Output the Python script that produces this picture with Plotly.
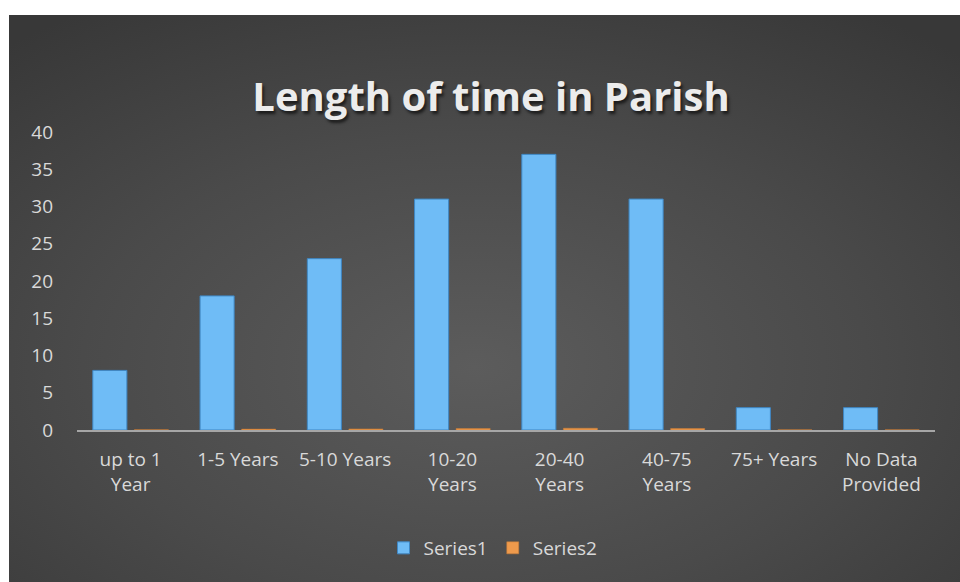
import base64
import plotly.graph_objects as go

categories = ["up to 1<br>Year", "1-5 Years", "5-10 Years", "10-20<br>Years",
              "20-40<br>Years", "40-75<br>Years", "75+ Years", "No Data<br>Provided"]
series1 = [8, 18, 23, 31, 37, 31, 3, 3]
series2 = [0.05, 0.12, 0.15, 0.2, 0.24, 0.2, 0.02, 0.02]
y_ticks = [0, 5, 10, 15, 20, 25, 30, 35, 40]

svg = """<svg xmlns="http://www.w3.org/2000/svg" width="951" height="567" viewBox="0 0 951 567" preserveAspectRatio="none">
<defs><radialGradient id="g" cx="0.49" cy="0.62" r="0.75" gradientUnits="objectBoundingBox">
<stop offset="0" stop-color="#5c5c5c"/><stop offset="0.55" stop-color="#4a4a4a"/><stop offset="1" stop-color="#383838"/>
</radialGradient></defs><rect width="951" height="567" fill="url(#g)"/></svg>"""
bg_uri = "data:image/svg+xml;base64," + base64.b64encode(svg.encode()).decode()

FONT = "'Open Sans', Lato, sans-serif"

W, H = 960, 582
L, T = 77, 132
R = W - 935
B = H - 430
pw, ph = W - L - R, H - T - B
plot_bottom = H - B


def py(page_y):
    return (plot_bottom - page_y) / ph


def px(page_x):
    return (page_x - L) / pw


fig = go.Figure()
fig.add_trace(go.Bar(x=categories, y=series1, name="Series1",
                     marker=dict(color="#6fbcf6", line=dict(color="#3f87c4", width=1))))
fig.add_trace(go.Bar(x=categories, y=series2, name="Series2",
                     marker=dict(color="#ee9a4c", line=dict(color="#c77a35", width=0.5))))

fig.update_layout(
    width=W, height=H,
    margin=dict(l=L, r=R, t=T, b=B),
    paper_bgcolor="#383838",
    plot_bgcolor="rgba(0,0,0,0)",
    barmode="group",
    bargap=0.225,
    bargroupgap=0.18,
    title=dict(text="<b>Length of time in Parish</b>", x=px(491), xanchor="center",
               xref="paper", y=(H - 97) / H, yanchor="middle",
               font=dict(family=FONT, size=40, color="#ececec",
                         shadow="2px 3px 3px rgba(0,0,0,0.6)")),
    font=dict(family=FONT, color="#d9d9d9", size=19),
    xaxis=dict(showgrid=False, showline=True, linecolor="#a6a6a6", linewidth=2,
               ticks="", ticklabelstandoff=11,
               tickfont=dict(size=19, color="#d9d9d9"), zeroline=False),
    yaxis=dict(range=[0, 40], tickvals=y_ticks, showgrid=False, zeroline=False,
               showline=False, ticks="", ticklabelstandoff=23,
               tickfont=dict(size=19, color="#d9d9d9")),
    legend=dict(orientation="h", x=px(493), xanchor="center", y=py(548),
                yanchor="middle", font=dict(size=19, color="#d9d9d9"),
                bgcolor="rgba(0,0,0,0)", itemwidth=30),
    images=[dict(source=bg_uri, xref="paper", yref="paper", x=px(9), y=py(15),
                 sizex=px(960) - px(9), sizey=py(15) - py(582), sizing="stretch",
                 xanchor="left", yanchor="top", layer="below")],
    shapes=[
        dict(type="rect", xref="paper", yref="paper", x0=px(0), x1=px(9),
             y0=py(582), y1=py(0), fillcolor="white", line=dict(width=0), layer="below"),
        dict(type="rect", xref="paper", yref="paper", x0=px(0), x1=px(960),
             y0=py(15), y1=py(0), fillcolor="white", line=dict(width=0), layer="below"),
    ],
)

fig.write_html(
    "out.html",
    config={"displayModeBar": False},
    post_script="document.body.style.margin='0';document.body.style.overflow='hidden';",
)
